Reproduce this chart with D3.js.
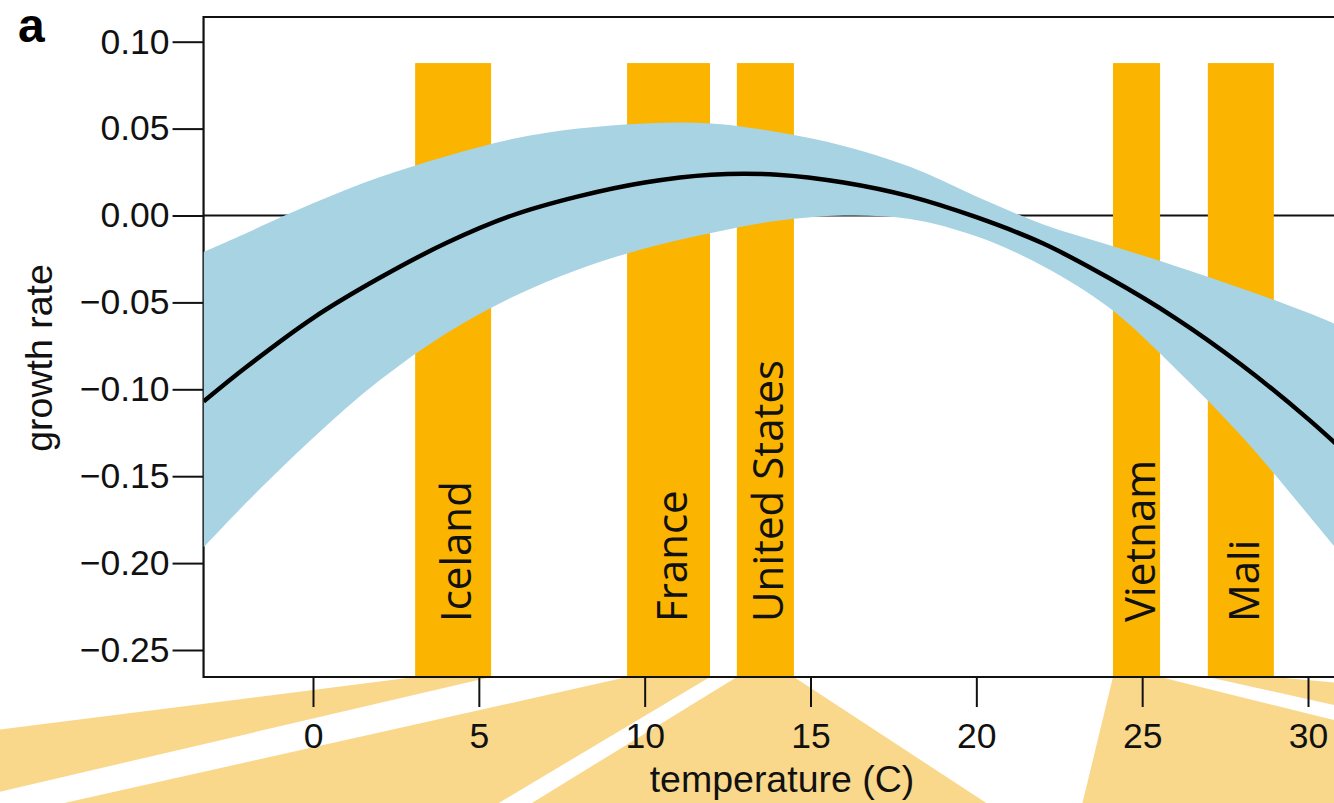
<!DOCTYPE html>
<html>
<head>
<meta charset="utf-8">
<script src="https://cdn.jsdelivr.net/npm/d3@7"></script>
<style>
  html, body { margin: 0; padding: 0; background: #fff; }
  svg { display: block; }
</style>
</head>
<body>
<svg id="chart" width="1334" height="803"></svg>
<script>
// ---------------- data ----------------
const xTicks = [0, 5, 10, 15, 20, 25, 30];
const yTicks = [-0.25, -0.20, -0.15, -0.10, -0.05, 0.00, 0.05, 0.10];

// fitted response curve
const curveT = [-3.3, -2, 0, 2, 4, 6, 8, 10, 12, 14, 16, 18, 20, 22, 24, 26, 28, 30, 31.5];
const curveG = [-0.107, -0.087, -0.059, -0.036, -0.016, 0.000, 0.011, 0.019, 0.0235, 0.0235, 0.019, 0.011, -0.001, -0.016, -0.036, -0.059, -0.086, -0.117, -0.143];

// confidence band
const bandT = [-3.3, -2, 0, 2, 4, 6, 8, 10, 12, 14, 16, 18, 20, 22, 24, 26, 28, 30, 31.5];
const bandUpper = [-0.021, -0.010, 0.007, 0.022, 0.034, 0.044, 0.050, 0.053, 0.053, 0.048, 0.040, 0.028, 0.011, -0.005, -0.017, -0.029, -0.042, -0.056, -0.068];
const bandLower = [-0.191, -0.165, -0.128, -0.095, -0.068, -0.047, -0.031, -0.019, -0.010, -0.003, 0.000, -0.002, -0.012, -0.029, -0.053, -0.088, -0.127, -0.172, -0.207];

// country temperature bars
const countries = ["Iceland", "France", "United States", "Vietnam", "Mali"];
const tempLo = [3.08, 9.47, 12.78, 24.12, 26.98];
const tempHi = [5.37, 11.97, 14.50, 25.54, 28.97];
const barTop = [0.0877, 0.0877, 0.0877, 0.0877, 0.0877];

// connector fans below the axis: temperature where each edge reaches the bottom of the view
const connLo = [-26.9, -7.5, 6.6, 23.2, 44.1];
const connHi = [-10.9, 5.6, 20.3, 40.9, 70.0];

// ---------------- layout ----------------
const W = 1334, H = 803;
const svg = d3.select("#chart");
const x = d3.scaleLinear().domain([0, 30]).range([313, 1308]);
const y = d3.scaleLinear().domain([-0.25, 0.10]).range([650, 41.7]);
const xMin = -3.3, xMax = 31.5;
const plotL = x(xMin), plotR = x(xMax);
const plotT = 17, plotB = 677;

const C_BAR = "#FBB400", C_FAN = "#F9D88C", C_BAND = "#A8D3E3";
const FONT = "'Liberation Sans', Arial, Helvetica, sans-serif";
const LFONT = "'Open Sans', 'Noto Sans', sans-serif";

// fans
const fanG = svg.append("g");
countries.forEach((c, i) => {
  const pts = [[x(tempLo[i]), plotB], [x(tempHi[i]), plotB], [x(connHi[i]), H], [x(connLo[i]), H]];
  fanG.append("path").attr("d", d3.line()(pts) + "Z").attr("fill", C_FAN);
});

// clip for plot area
svg.append("clipPath").attr("id", "plotclip").append("rect")
  .attr("x", plotL).attr("y", plotT).attr("width", plotR - plotL).attr("height", plotB - plotT);

// zero line
svg.append("line").attr("x1", plotL).attr("x2", plotR).attr("y1", y(0)).attr("y2", y(0))
  .attr("stroke", "#111").attr("stroke-width", 2.2);

// y axis
const yAxis = d3.axisLeft(y).tickValues(yTicks).tickSize(31).tickPadding(3)
  .tickFormat(d3.format(".2f"));
const yg = svg.append("g").attr("transform", `translate(${plotL},0)`).call(yAxis);
yg.select(".domain").remove();
yg.selectAll("line").attr("stroke", "#111").attr("stroke-width", 2);
yg.selectAll("text").attr("font-family", FONT).attr("font-size", 35.5).attr("fill", "#111");

// box lines
svg.append("path")
  .attr("d", `M${plotR},${plotT}H${plotL}V${plotB}H${plotR}`)
  .attr("fill", "none").attr("stroke", "#111").attr("stroke-width", 2.2);

const plotG = svg.append("g").attr("clip-path", "url(#plotclip)");

// bars
countries.forEach((c, i) => {
  plotG.append("rect")
    .attr("x", x(tempLo[i])).attr("width", x(tempHi[i]) - x(tempLo[i]))
    .attr("y", y(barTop[i])).attr("height", plotB - 1 - y(barTop[i]))
    .attr("fill", C_BAR);
});

// band
const band = d3.area().x((d, i) => x(bandT[i])).y0((d, i) => y(bandLower[i])).y1((d, i) => y(bandUpper[i]))
  .curve(d3.curveCatmullRom);
plotG.append("path").datum(bandT).attr("d", band).attr("fill", C_BAND);

// curve
const line = d3.line().x((d, i) => x(curveT[i])).y((d, i) => y(curveG[i])).curve(d3.curveCatmullRom);
plotG.append("path").datum(curveT).attr("d", line).attr("fill", "none")
  .attr("stroke", "#000").attr("stroke-width", 4.5);

// country labels
countries.forEach((c, i) => {
  const cx = (x(tempLo[i]) + x(tempHi[i])) / 2 + 18;
  svg.append("text")
    .attr("transform", `translate(${cx},${plotB - 55}) rotate(-90)`)
    .attr("font-family", LFONT).attr("font-size", 42).attr("fill", "#111")
    .text(c);
});

// x axis
const xAxis = d3.axisBottom(x).tickValues(xTicks).tickSize(30).tickPadding(16).tickFormat(d3.format("d"));
const xg = svg.append("g").attr("transform", `translate(0,${plotB})`).call(xAxis);
xg.select(".domain").remove();
xg.selectAll("line").attr("stroke", "#111").attr("stroke-width", 2);
xg.selectAll("text").attr("font-family", FONT).attr("font-size", 35.5).attr("fill", "#111");

// axis titles
svg.append("text").attr("x", 782).attr("y", 792).attr("text-anchor", "middle")
  .attr("font-family", FONT).attr("font-size", 37.5).attr("fill", "#111").text("temperature (C)");
svg.append("text").attr("transform", "translate(52,358) rotate(-90)").attr("text-anchor", "middle")
  .attr("font-family", FONT).attr("font-size", 37.5).attr("fill", "#111").text("growth rate");

// panel letter
svg.append("text").attr("x", 18).attr("y", 42).attr("font-family", FONT).attr("font-weight", "bold")
  .attr("font-size", 48).attr("fill", "#000").text("a");
</script>
</body>
</html>
